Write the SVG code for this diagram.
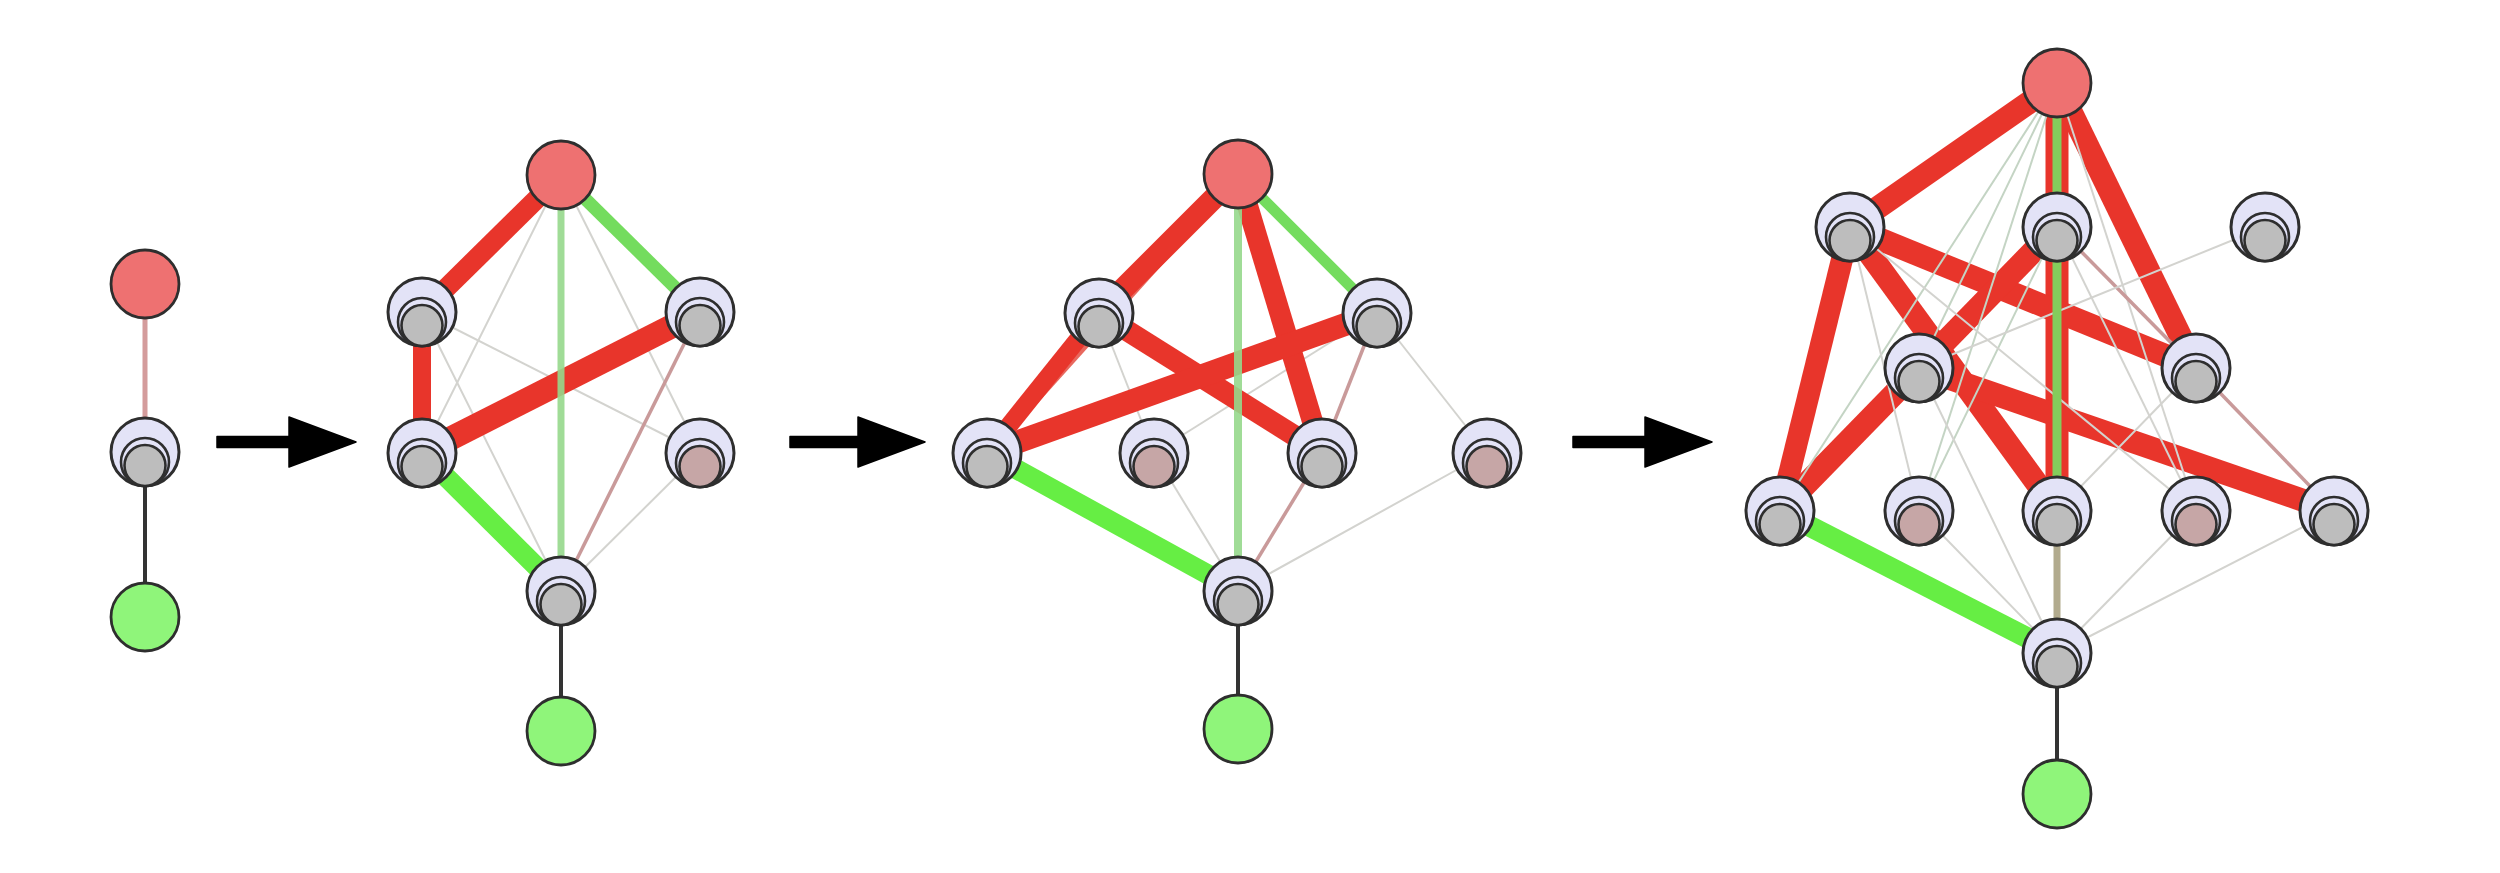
<svg xmlns="http://www.w3.org/2000/svg" xmlns:xlink="http://www.w3.org/1999/xlink" width="2500" height="873" viewBox="0 0 2500 873">
<style>
.o{fill:#e3e3f7;stroke:#2e2e2e;stroke-width:3}
.m{fill:#e3e3f7;stroke:#2e2e2e;stroke-width:2.6}
.gy{fill:#bdbdbd;stroke:#2e2e2e;stroke-width:2.6}
.pk{fill:#c6a6a6;stroke:#2e2e2e;stroke-width:2.6}
.rd{fill:#ee7171;stroke:#2e2e2e;stroke-width:2.8}
.gn{fill:#8ff57a;stroke:#2e2e2e;stroke-width:2.8}
line{fill:none;stroke-linecap:butt}
.er{stroke:#e8352b}
.eg{stroke:#66ee44}
.elg{stroke:#74dc5e}
.ev{stroke:#96d88c;stroke-opacity:0.9}
.et{stroke:#d3d3cf;stroke-width:2}
.etg{stroke:#c4d4c4;stroke-width:2}
.ep{stroke:#c99a9a;stroke-width:3.5}
.ed{stroke:#333333;stroke-width:4}
.arrow{fill:#000000;stroke:#000000;stroke-width:1.5;stroke-linejoin:round}
</style>
<defs>
<g id="cn"><circle r="34" class="o"/><circle cy="10" r="24" class="m"/></g>
</defs>
<rect width="2500" height="873" fill="#ffffff"/>

<g id="connectors">
<!-- Graph 1 -->
<line x1="145" y1="284" x2="145" y2="452" stroke="#d49c9c" stroke-width="5"/>
<line x1="145" y1="452" x2="145" y2="617" class="ed"/>

<!-- Graph 2 -->
<line x1="561" y1="175" x2="422" y2="453" class="et"/>
<line x1="561" y1="175" x2="700" y2="453" class="et" stroke="#dccaca"/>
<line x1="422" y1="312" x2="700" y2="453" class="et"/>
<line x1="422" y1="312" x2="561" y2="591" class="et"/>
<line x1="700" y1="453" x2="561" y2="591" class="et"/>
<line x1="700" y1="312" x2="561" y2="591" class="ep"/>
<line x1="561" y1="175" x2="422" y2="312" class="er" stroke-width="20"/>
<line x1="422" y1="312" x2="422" y2="453" class="er" stroke-width="18"/>
<line x1="422" y1="453" x2="700" y2="312" class="er" stroke-width="24"/>
<line x1="561" y1="175" x2="700" y2="312" class="elg" stroke-width="13"/>
<line x1="422" y1="453" x2="561" y2="591" class="eg" stroke-width="20"/>
<line x1="561" y1="175" x2="561" y2="591" class="ev" stroke-width="7"/>
<line x1="561" y1="591" x2="561" y2="731" class="ed"/>

<!-- Graph 3 -->
<line x1="1099" y1="313" x2="1154" y2="453" class="et"/>
<line x1="1154" y1="453" x2="1377" y2="313" class="et"/>
<line x1="1377" y1="313" x2="1487" y2="453" class="et"/>
<line x1="1154" y1="453" x2="1238" y2="591" class="et"/>
<line x1="1487" y1="453" x2="1238" y2="591" class="et" stroke="#dac8c8"/>
<line x1="1377" y1="313" x2="1322" y2="453" class="ep" stroke-width="2.5"/>
<line x1="1322" y1="453" x2="1238" y2="591" class="ep" stroke-width="3"/>
<line x1="1238" y1="174" x2="987" y2="453" stroke="#e8685e" stroke-width="9"/>
<line x1="1238" y1="174" x2="1099" y2="313" class="er" stroke-width="22"/>
<line x1="1099" y1="313" x2="987" y2="453" class="er" stroke-width="18"/>
<line x1="1238" y1="174" x2="1322" y2="453" class="er" stroke-width="21"/>
<line x1="1099" y1="313" x2="1322" y2="453" class="er" stroke-width="21"/>
<line x1="987" y1="453" x2="1377" y2="313" class="er" stroke-width="23"/>
<line x1="1238" y1="174" x2="1377" y2="313" class="elg" stroke-width="11"/>
<line x1="987" y1="453" x2="1238" y2="591" class="eg" stroke-width="20"/>
<line x1="1238" y1="174" x2="1238" y2="591" class="ev" stroke-width="8"/>
<line x1="1238" y1="591" x2="1238" y2="729" class="ed"/>

<!-- Graph 4 -->
<line x1="2057" y1="83" x2="1850" y2="227" class="er" stroke-width="23"/>
<line x1="2057" y1="83" x2="2057" y2="511" class="er" stroke-width="23"/>
<line x1="2057" y1="83" x2="2196" y2="368" class="er" stroke-width="23"/>
<line x1="1850" y1="227" x2="2196" y2="368" class="er" stroke-width="23"/>
<line x1="1850" y1="227" x2="1780" y2="511" class="er" stroke-width="22"/>
<line x1="1850" y1="227" x2="2057" y2="511" class="er" stroke-width="23"/>
<line x1="1780" y1="511" x2="2057" y2="227" class="er" stroke-width="23"/>
<line x1="1919" y1="368" x2="2334" y2="511" class="er" stroke-width="23"/>
<line x1="2057" y1="83" x2="1919" y2="368" class="etg"/>
<line x1="2057" y1="83" x2="1780" y2="511" class="etg"/>
<line x1="2057" y1="83" x2="1919" y2="511" class="etg"/>
<line x1="2057" y1="83" x2="2196" y2="511" class="et"/>
<line x1="2057" y1="227" x2="1919" y2="511" class="etg"/>
<line x1="2057" y1="227" x2="2196" y2="511" class="et"/>
<line x1="2057" y1="227" x2="2196" y2="368" class="ep" stroke="#bf9c9c" stroke-width="3"/>
<line x1="1850" y1="227" x2="1919" y2="511" class="et"/>
<line x1="1850" y1="227" x2="2196" y2="511" class="et" stroke="#cbb6b6"/>
<line x1="2265" y1="227" x2="1919" y2="368" class="et"/>
<line x1="2196" y1="368" x2="2057" y2="511" class="et"/>
<line x1="2196" y1="368" x2="2334" y2="511" class="ep" stroke-width="4"/>
<line x1="1919" y1="368" x2="2057" y2="653" class="et"/>
<line x1="1919" y1="511" x2="2057" y2="653" class="et"/>
<line x1="2196" y1="511" x2="2057" y2="653" class="et"/>
<line x1="2334" y1="511" x2="2057" y2="653" class="et"/>
<line x1="2057" y1="83" x2="2057" y2="511" stroke="#84cc5c" stroke-width="9"/>
<line x1="2057" y1="511" x2="2057" y2="653" stroke="#b2ab8e" stroke-width="7"/>
<line x1="1780" y1="511" x2="2057" y2="653" class="eg" stroke-width="21"/>
<line x1="2057" y1="653" x2="2057" y2="794" class="ed"/>
</g>

<g id="arrows">
<path id="arrow-1" class="arrow" d="M217,436.5 H289 V417 L356,442 L289,467 V447.5 H217 Z"/>
<path id="arrow-2" class="arrow" d="M790,436.5 H858 V417 L925,442 L858,467 V447.5 H790 Z"/>
<path id="arrow-3" class="arrow" d="M1573,436.5 H1645 V417 L1712,442 L1645,467 V447.5 H1573 Z"/>
</g>

<!-- Graph 1 nodes -->
<g id="g1-red"><circle cx="145" cy="284" r="34" class="rd"/></g>
<g id="g1-mid" transform="translate(145,452)"><use xlink:href="#cn"/><circle cy="13.5" r="20.5" class="gy"/></g>
<g id="g1-green"><circle cx="145" cy="617" r="34" class="gn"/></g>

<!-- Graph 2 nodes -->
<g id="g2-red"><circle cx="561" cy="175" r="34" class="rd"/></g>
<g id="g2-ul" transform="translate(422,312)"><use xlink:href="#cn"/><circle cy="13.5" r="20.5" class="gy"/></g>
<g id="g2-ur" transform="translate(700,312)"><use xlink:href="#cn"/><circle cy="13.5" r="20.5" class="gy"/></g>
<g id="g2-ml" transform="translate(422,453)"><use xlink:href="#cn"/><circle cy="13.5" r="20.5" class="gy"/></g>
<g id="g2-mr" transform="translate(700,453)"><use xlink:href="#cn"/><circle cy="13.5" r="20.5" class="pk" fill="#c4aaaa"/></g>
<g id="g2-bottom" transform="translate(561,591)"><use xlink:href="#cn"/><circle cy="13.5" r="20.5" class="gy"/></g>
<g id="g2-green"><circle cx="561" cy="731" r="34" class="gn"/></g>

<!-- Graph 3 nodes -->
<g id="g3-red"><circle cx="1238" cy="174" r="34" class="rd"/></g>
<g id="g3-ul" transform="translate(1099,313)"><use xlink:href="#cn"/><circle cy="13.5" r="20.5" class="gy"/></g>
<g id="g3-ur" transform="translate(1377,313)"><use xlink:href="#cn"/><circle cy="13.5" r="20.5" class="gy"/></g>
<g id="g3-m1" transform="translate(987,453)"><use xlink:href="#cn"/><circle cy="13.5" r="20.5" class="gy"/></g>
<g id="g3-m2" transform="translate(1154,453)"><use xlink:href="#cn"/><circle cy="13.5" r="20.5" class="pk"/></g>
<g id="g3-m3" transform="translate(1322,453)"><use xlink:href="#cn"/><circle cy="13.5" r="20.5" class="gy"/></g>
<g id="g3-m4" transform="translate(1487,453)"><use xlink:href="#cn"/><circle cy="13.5" r="20.5" class="pk"/></g>
<g id="g3-bottom" transform="translate(1238,591)"><use xlink:href="#cn"/><circle cy="13.5" r="20.5" class="gy"/></g>
<g id="g3-green"><circle cx="1238" cy="729" r="34" class="gn"/></g>

<!-- Graph 4 nodes -->
<g id="g4-red"><circle cx="2057" cy="83" r="34" class="rd"/></g>
<g id="g4-r1l" transform="translate(1850,227)"><use xlink:href="#cn"/><circle cy="13.5" r="20.5" class="gy"/></g>
<g id="g4-r1m" transform="translate(2057,227)"><use xlink:href="#cn"/><circle cy="13.5" r="20.5" class="gy"/></g>
<g id="g4-r1r" transform="translate(2265,227)"><use xlink:href="#cn"/><circle cy="13.5" r="20.5" class="gy" fill="#c2c7bf"/></g>
<g id="g4-r2l" transform="translate(1919,368)"><use xlink:href="#cn"/><circle cy="13.5" r="20.5" class="gy"/></g>
<g id="g4-r2r" transform="translate(2196,368)"><use xlink:href="#cn"/><circle cy="13.5" r="20.5" class="gy" fill="#bfc3bd"/></g>
<g id="g4-r3a" transform="translate(1780,511)"><use xlink:href="#cn"/><circle cy="13.5" r="20.5" class="gy"/></g>
<g id="g4-r3b" transform="translate(1919,511)"><use xlink:href="#cn"/><circle cy="13.5" r="20.5" class="pk"/></g>
<g id="g4-r3c" transform="translate(2057,511)"><use xlink:href="#cn"/><circle cy="13.5" r="20.5" class="gy"/></g>
<g id="g4-r3d" transform="translate(2196,511)"><use xlink:href="#cn"/><circle cy="13.5" r="20.5" class="pk"/></g>
<g id="g4-r3e" transform="translate(2334,511)"><use xlink:href="#cn"/><circle cy="13.5" r="20.5" class="gy" fill="#c8bebe"/></g>
<g id="g4-bottom" transform="translate(2057,653)"><use xlink:href="#cn"/><circle cy="13.5" r="20.5" class="gy"/></g>
<g id="g4-green"><circle cx="2057" cy="794" r="34" class="gn"/></g>
</svg>
